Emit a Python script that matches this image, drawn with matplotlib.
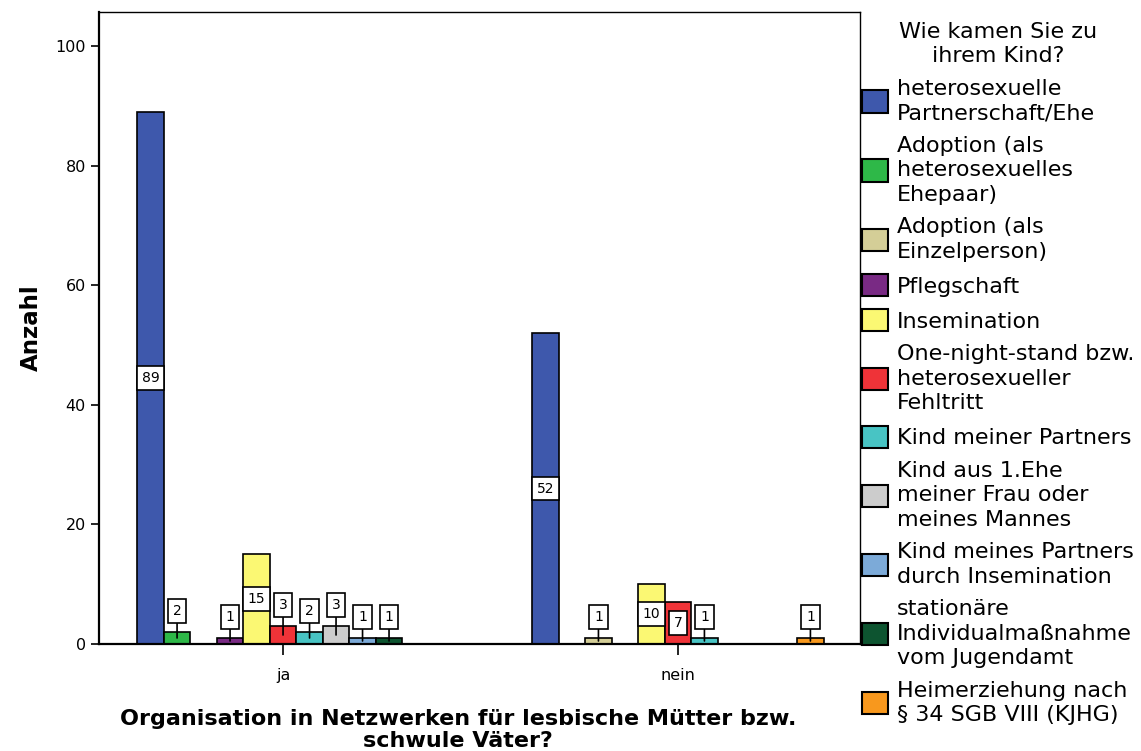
import numpy as np
import matplotlib
matplotlib.use("Agg")
import matplotlib.pyplot as plt
from matplotlib.patches import Patch

groups = ["ja", "nein"]
categories = [
    "heterosexuelle\nPartnerschaft/Ehe",
    "Adoption (als\nheterosexuelles\nEhepaar)",
    "Adoption (als\nEinzelperson)",
    "Pflegschaft",
    "Insemination",
    "One-night-stand bzw.\nheterosexueller\nFehltritt",
    "Kind meiner Partners",
    "Kind aus 1.Ehe\nmeiner Frau oder\nmeines Mannes",
    "Kind meines Partners\ndurch Insemination",
    "stationäre\nIndividualmaßnahme\nvom Jugendamt",
    "Heimerziehung nach\n§ 34 SGB VIII (KJHG)",
]
counts_ja = [89, 2, 0, 1, 15, 3, 2, 3, 1, 1, 0]
counts_nein = [52, 0, 1, 0, 10, 7, 1, 0, 0, 0, 1]
colors = ["#3E58AC", "#2EB848", "#D4CE97", "#792A84", "#FBF873", "#EF3338",
          "#48C4C4", "#CCCCCC", "#7CAAD8", "#0D5430", "#F8981D"]

plt.rcParams["font.family"] = "DejaVu Sans"

fig = plt.figure(figsize=(11.41, 7.51), dpi=100)
ax = fig.add_axes([0.0868, 0.1425, 0.7537 - 0.0868, 0.984 - 0.1425])

n = len(categories)
w = 0.0671
data = np.array([counts_ja, counts_nein])
for g in range(len(groups)):
    for i in range(n):
        v = data[g, i]
        if v <= 0:
            continue
        x = g + (i - (n - 1) / 2) * w
        ax.bar(x, v, width=w, color=colors[i], edgecolor="black", linewidth=1.2, zorder=2)
        box = dict(boxstyle="square,pad=0.35", fc="white", ec="black", lw=1.2)
        if v >= 5:
            ax.text(x, v / 2, str(v), ha="center", va="center", fontsize=10,
                    bbox=box, zorder=4)
        else:
            ax.annotate(str(v), xy=(x, v / 2), xytext=(x, v + 3.5),
                        ha="center", va="center", fontsize=10, bbox=box, zorder=4,
                        arrowprops=dict(arrowstyle="-", color="black", lw=1.2,
                                        shrinkA=0, shrinkB=0))

ax.set_xlim(-0.466, 1.461)
ax.set_ylim(0, 105.7)
ax.set_xticks([0, 1])
ax.set_xticklabels(groups)
ax.set_yticks([0, 20, 40, 60, 80, 100])
ax.tick_params(axis="y", length=6, width=1.2, labelsize=11.5)
ax.tick_params(axis="x", length=8, width=1.2, labelsize=11.5, pad=9)
for s in ["left", "bottom"]:
    ax.spines[s].set_linewidth(1.6)
for s in ["top", "right"]:
    ax.spines[s].set_linewidth(1.0)

ax.set_ylabel("Anzahl", fontsize=16.5, fontweight="bold")
ax.yaxis.set_label_coords(-0.074, 0.5)
ax.set_xlabel("Organisation in Netzwerken für lesbische Mütter bzw.\nschwule Väter?",
              fontsize=16, fontweight="bold", linespacing=1.15)
ax.xaxis.set_label_coords(0.472, -0.103)

handles = [Patch(facecolor=c, edgecolor="black", linewidth=1.5) for c in colors]
leg = ax.legend(handles, categories, loc="upper left", bbox_to_anchor=(1.0, 0.988),
                frameon=False, fontsize=16, title="Wie kamen Sie zu\nihrem Kind?",
                title_fontsize=16, handlelength=1.17, handleheight=1.17,
                handletextpad=0.4, labelspacing=0.56, borderpad=0.1,
                borderaxespad=0.0)
for t in leg.get_texts():
    t.set_linespacing(1.28)
leg.get_title().set_linespacing(1.28)
leg.get_title().set_multialignment("center")

fig.savefig("out.png", dpi=100)
